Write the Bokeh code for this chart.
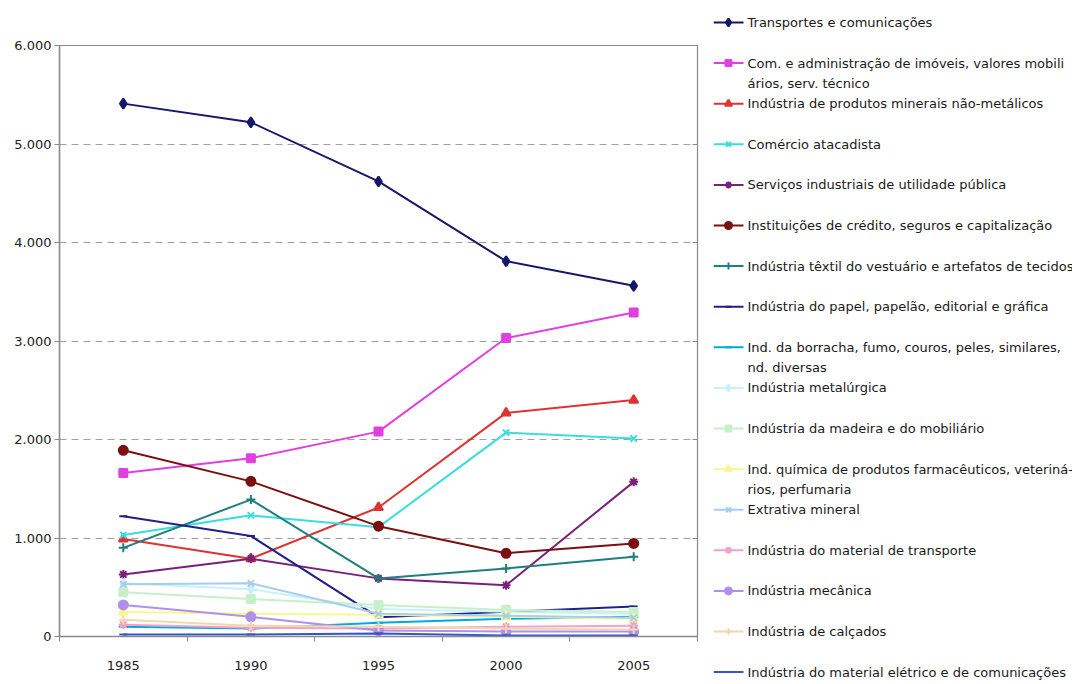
from bokeh.plotting import figure
from bokeh.layouts import row
from bokeh.models import Range1d, FixedTicker, LinearAxis
from bokeh.core.properties import value
from bokeh.embed import file_html
from bokeh.resources import INLINE

years = [1985, 1990, 1995, 2000, 2005]

transportes = [5410, 5220, 4620, 3810, 3560]
com_admin = [1660, 1810, 2080, 3030, 3290]
minerais = [990, 790, 1310, 2270, 2400]
comercio = [1030, 1230, 1110, 2070, 2010]
servicos = [630, 790, 590, 520, 1570]
credito = [1890, 1575, 1120, 845, 945]
textil = [900, 1390, 590, 690, 810]
papel = [1220, 1020, 195, 250, 305]
borracha = [100, 80, 140, 180, 200]
metalurgica = [540, 480, 280, 250, 230]
madeira = [450, 380, 320, 270, 250]
quimica = [250, 230, 220, 200, 180]
extrativa = [530, 540, 230, 210, 190]
mat_transporte = [120, 90, 80, 100, 110]
mecanica = [320, 200, 60, 50, 50]
calcados = [170, 110, 100, 80, 70]
eletrico = [20, 20, 30, 10, 10]

series_names = [
    "Transportes e comunicações",
    "Com. e administração de imóveis, valores mobili\nários, serv. técnico",
    "Indústria de produtos minerais não-metálicos",
    "Comércio atacadista",
    "Serviços industriais de utilidade pública",
    "Instituições de crédito, seguros e capitalização",
    "Indústria têxtil do vestuário e artefatos de tecidos",
    "Indústria do papel, papelão, editorial e gráfica",
    "Ind. da borracha, fumo, couros, peles, similares,\nnd. diversas",
    "Indústria metalúrgica",
    "Indústria da madeira e do mobiliário",
    "Ind. química de produtos farmacêuticos, veteriná-\nrios, perfumaria",
    "Extrativa mineral",
    "Indústria do material de transporte",
    "Indústria mecânica",
    "Indústria de calçados",
    "Indústria do material elétrico e de comunicações",
]
series_values = [transportes, com_admin, minerais, comercio, servicos, credito,
                 textil, papel, borracha, metalurgica, madeira, quimica,
                 extrativa, mat_transporte, mecanica, calcados, eletrico]

colors = ["#16166a", "#e040e0", "#dd3333", "#3cdcdc", "#7a1f7a", "#7a1010",
          "#1f7f7f", "#20208a", "#00aadd", "#c6f2fa", "#c8f0c8", "#f8f890",
          "#a8ccf0", "#f5a0c8", "#b090e8", "#f0d8b0", "#3355cc"]
markers = ["diamond", "square", "triangle", "x", "asterisk", "circle", "cross",
           "dash", "dash", "diamond", "square", "triangle", "x", "asterisk",
           "circle", "cross", "dash"]
msizes = [10, 8, 9, 9, 9, 9, 9, 8, 9, 9, 8, 9, 9, 9, 9, 9, 8]

y_ticks = [0, 1000, 2000, 3000, 4000, 5000, 6000]
y_labels = ["0", "1.000", "2.000", "3.000", "4.000", "5.000", "6.000"]

FONT = "DejaVu Sans"
GRAY = "#8a8a8a"
H = 680

half = (years[1] - years[0]) / 2
p = figure(width=713, height=H, output_backend="svg", toolbar_location=None,
           x_range=Range1d(years[0] - half, years[-1] + half),
           y_range=Range1d(y_ticks[0], y_ticks[-1]),
           min_border_left=59, min_border_right=16, min_border_top=45,
           min_border_bottom=H - 636, frame_align=False)
p.background_fill_color = "white"
p.border_fill_color = "white"
p.outline_line_color = GRAY
p.outline_line_width = 1.2

p.xaxis.ticker = FixedTicker(ticks=years,
                             minor_ticks=[y - half for y in years] + [years[-1] + half])
p.xaxis.major_tick_out = 0
p.xaxis.major_tick_in = 0
p.xaxis.minor_tick_out = 5
p.xaxis.minor_tick_in = 0
p.xaxis.minor_tick_line_color = GRAY
p.xaxis.axis_line_color = GRAY
p.xaxis.axis_line_width = 1.5
p.xaxis.major_label_standoff = 19
p.xaxis.major_label_text_font = FONT
p.xaxis.major_label_text_font_size = "13px"
p.xaxis.major_label_text_color = "#222222"

p.yaxis.ticker = FixedTicker(ticks=y_ticks)
p.yaxis.major_label_overrides = dict(zip(y_ticks, y_labels))
p.yaxis.major_tick_out = 5
p.yaxis.major_tick_in = 0
p.yaxis.minor_tick_out = 0
p.yaxis.minor_tick_in = 0
p.yaxis.major_tick_line_color = GRAY
p.yaxis.axis_line_color = GRAY
p.yaxis.axis_line_width = 1.5
p.yaxis.major_label_standoff = 3
p.yaxis.major_label_text_font = FONT
p.yaxis.major_label_text_font_size = "13px"
p.yaxis.major_label_text_color = "#222222"

raxis = LinearAxis(ticker=FixedTicker(ticks=y_ticks),
                   major_label_overrides={t: "" for t in y_ticks},
                   major_tick_in=5, major_tick_out=0, minor_tick_in=0, minor_tick_out=0,
                   axis_line_color=GRAY, major_tick_line_color=GRAY,
                   major_label_text_font_size="1px")
p.add_layout(raxis, "right")

p.xgrid.grid_line_color = None
p.ygrid.grid_line_color = "#a0a0a0"
p.ygrid.grid_line_dash = "7 5"
p.ygrid.grid_line_width = 1

for vals, col, mk, ms in zip(series_values, colors, markers, msizes):
    p.line(years, vals, line_color=col, line_width=2)
    p.scatter(years, vals, marker=mk, size=ms, line_color=col, fill_color=col,
              line_width=2)

# legend as a separate panel (no axes, no title, frame not aligned)
lw, lh = 359, H
lg = figure(width=lw, height=lh, output_backend="svg", toolbar_location=None,
            x_range=Range1d(0, lw), y_range=Range1d(lh, 0),
            x_axis_location=None, y_axis_location=None, title=None,
            min_border=0, min_border_left=0, min_border_right=0,
            min_border_top=0, min_border_bottom=0, frame_align=False)
lg.grid.visible = False
lg.outline_line_color = None
lg.background_fill_color = "white"
lg.border_fill_color = "white"

first_y, step = 22, 40.6
tx, ty, tt = [], [], []
for i, (name, col, mk, ms) in enumerate(zip(series_names, colors, markers, msizes)):
    yy = first_y + i * step
    lg.segment(x0=[0], y0=[yy], x1=[30], y1=[yy], line_color=col, line_width=2)
    lg.scatter([15], [yy], marker=mk, size=ms - 2, line_color=col, fill_color=col,
               line_width=2)
    for j, part in enumerate(name.split("\n")):
        tx.append(34)
        ty.append(yy + j * 20)
        tt.append(part)
lg.text(tx, ty, text=tt, text_baseline="middle", text_align="left",
        text_font=value(FONT), text_font_size="13px", text_color="#1a1a1a")

layout = row(p, lg)
open("out.html", "w").write(file_html(layout, INLINE))
